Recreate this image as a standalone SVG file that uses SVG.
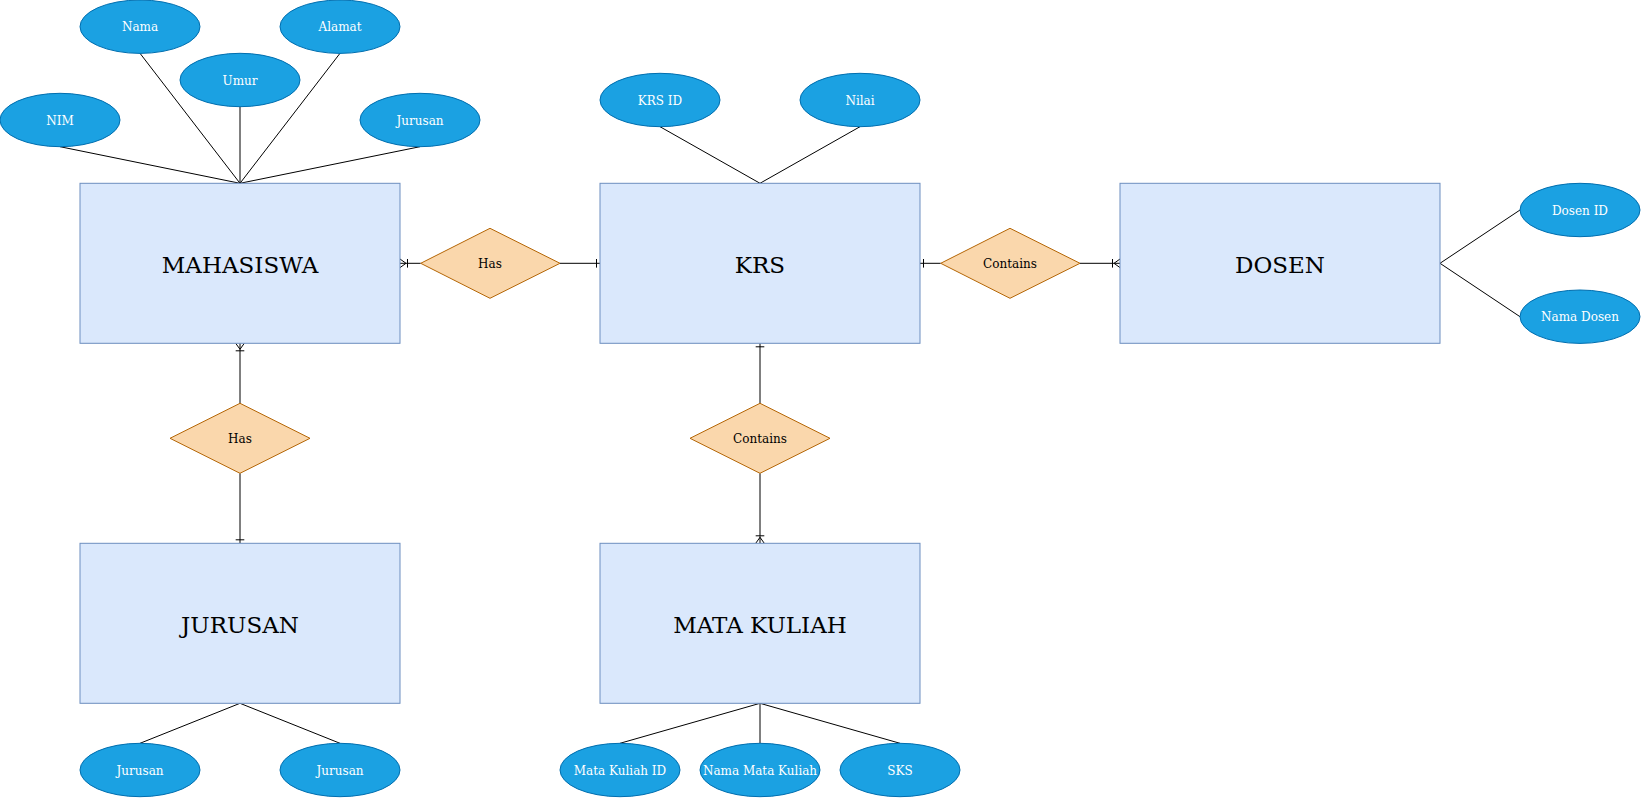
<svg xmlns="http://www.w3.org/2000/svg" width="1641" height="798" viewBox="0 0 1641 798">
<style>
.ent rect{fill:#dae8fc;stroke:#6c8ebf;stroke-width:1}
.ent text{font-family:"DejaVu Serif",serif;font-size:23px;fill:#000;text-anchor:middle}
.attr ellipse{fill:#1ba1e2;stroke:#006eaf;stroke-width:1}
.attr text{font-family:"DejaVu Serif",serif;font-size:12px;fill:#fff;text-anchor:middle}
.rel polygon{fill:#fad7ac;stroke:#b46504;stroke-width:1}
.rel text{font-family:"DejaVu Serif",serif;font-size:12px;fill:#000;text-anchor:middle}
#connectors line,#connectors path{stroke:#000;stroke-width:1;fill:none}
</style>
<rect width="1641" height="798" fill="#fff"/>
<g id="connectors">
<line x1="60" y1="146.7" x2="240" y2="183.3"/>
<line x1="140" y1="53.3" x2="240" y2="183.3"/>
<line x1="240" y1="106.7" x2="240" y2="183.3"/>
<line x1="340" y1="53.3" x2="240" y2="183.3"/>
<line x1="420" y1="146.7" x2="240" y2="183.3"/>
<line x1="660" y1="126.7" x2="760" y2="183.3"/>
<line x1="860" y1="126.7" x2="760" y2="183.3"/>
<line x1="1440" y1="263.3" x2="1520" y2="210"/>
<line x1="1440" y1="263.3" x2="1520" y2="316.7"/>
<line x1="140" y1="743.3" x2="240" y2="703.3"/>
<line x1="340" y1="743.3" x2="240" y2="703.3"/>
<line x1="620" y1="743.3" x2="760" y2="703.3"/>
<line x1="760" y1="743.3" x2="760" y2="703.3"/>
<line x1="900" y1="743.3" x2="760" y2="703.3"/>
<line x1="400" y1="263.3" x2="420.7" y2="263.3"/>
<path d="M400 259 L406 263.3 L400 267.6 M407.5 259 V267.6"/>
<line x1="560" y1="263.3" x2="600" y2="263.3"/>
<path d="M596.5 259 V267.6"/>
<line x1="920" y1="263.3" x2="940.7" y2="263.3"/>
<path d="M923.5 259 V267.6"/>
<line x1="1080" y1="263.3" x2="1120" y2="263.3"/>
<path d="M1120 259 L1114 263.3 L1120 267.6 M1112.5 259 V267.6"/>
<line x1="240" y1="343.3" x2="240" y2="403.3"/>
<path d="M235.7 343.3 L240 349.3 L244.3 343.3 M235.7 350.8 H244.3"/>
<line x1="240" y1="473.3" x2="240" y2="543.3"/>
<path d="M235.7 539.8 H244.3"/>
<line x1="760" y1="343.3" x2="760" y2="403.3"/>
<path d="M755.7 346.8 H764.3"/>
<line x1="760" y1="473.3" x2="760" y2="543.3"/>
<path d="M755.7 543.3 L760 537.3 L764.3 543.3 M755.7 535.8 H764.3"/>
</g>
<g id="mahasiswa" class="ent"><rect x="80" y="183.3" width="320" height="160"/><text x="240" y="272.5">MAHASISWA</text></g>
<g id="krs" class="ent"><rect x="600" y="183.3" width="320" height="160"/><text x="760" y="272.5">KRS</text></g>
<g id="dosen" class="ent"><rect x="1120" y="183.3" width="320" height="160"/><text x="1280" y="272.5">DOSEN</text></g>
<g id="jurusan" class="ent"><rect x="80" y="543.3" width="320" height="160"/><text x="240" y="632.5">JURUSAN</text></g>
<g id="matakuliah" class="ent"><rect x="600" y="543.3" width="320" height="160"/><text x="760" y="632.5">MATA KULIAH</text></g>
<g id="rel-has-1" class="rel"><polygon points="420.7,263.3 490,228.3 560,263.3 490,298.3"/><text x="490" y="267.8">Has</text></g>
<g id="rel-contains-1" class="rel"><polygon points="940.7,263.3 1010,228.3 1080,263.3 1010,298.3"/><text x="1010" y="267.8">Contains</text></g>
<g id="rel-has-2" class="rel"><polygon points="170,438.3 240,403.3 310,438.3 240,473.3"/><text x="240" y="442.8">Has</text></g>
<g id="rel-contains-2" class="rel"><polygon points="690,438.3 760,403.3 830,438.3 760,473.3"/><text x="760" y="442.8">Contains</text></g>
<g id="attr-nama" class="attr"><ellipse cx="140" cy="26.7" rx="60" ry="26.7"/><text x="140" y="31.2">Nama</text></g>
<g id="attr-alamat" class="attr"><ellipse cx="340" cy="26.7" rx="60" ry="26.7"/><text x="340" y="31.2">Alamat</text></g>
<g id="attr-umur" class="attr"><ellipse cx="240" cy="80" rx="60" ry="26.7"/><text x="240" y="84.5">Umur</text></g>
<g id="attr-nim" class="attr"><ellipse cx="60" cy="120" rx="60" ry="26.7"/><text x="60" y="124.5">NIM</text></g>
<g id="attr-jurusan" class="attr"><ellipse cx="420" cy="120" rx="60" ry="26.7"/><text x="420" y="124.5">Jurusan</text></g>
<g id="attr-krsid" class="attr"><ellipse cx="660" cy="100" rx="60" ry="26.7"/><text x="660" y="104.5">KRS ID</text></g>
<g id="attr-nilai" class="attr"><ellipse cx="860" cy="100" rx="60" ry="26.7"/><text x="860" y="104.5">Nilai</text></g>
<g id="attr-dosenid" class="attr"><ellipse cx="1580" cy="210" rx="60" ry="26.7"/><text x="1580" y="214.5">Dosen ID</text></g>
<g id="attr-namadosen" class="attr"><ellipse cx="1580" cy="316.7" rx="60" ry="26.7"/><text x="1580" y="321.2">Nama Dosen</text></g>
<g id="attr-jurusan-1" class="attr"><ellipse cx="140" cy="770" rx="60" ry="26.7"/><text x="140" y="774.5">Jurusan</text></g>
<g id="attr-jurusan-2" class="attr"><ellipse cx="340" cy="770" rx="60" ry="26.7"/><text x="340" y="774.5">Jurusan</text></g>
<g id="attr-mkid" class="attr"><ellipse cx="620" cy="770" rx="60" ry="26.7"/><text x="620" y="774.5">Mata Kuliah ID</text></g>
<g id="attr-namamk" class="attr"><ellipse cx="760" cy="770" rx="60" ry="26.7"/><text x="760" y="774.5">Nama Mata Kuliah</text></g>
<g id="attr-sks" class="attr"><ellipse cx="900" cy="770" rx="60" ry="26.7"/><text x="900" y="774.5">SKS</text></g>
</svg>
